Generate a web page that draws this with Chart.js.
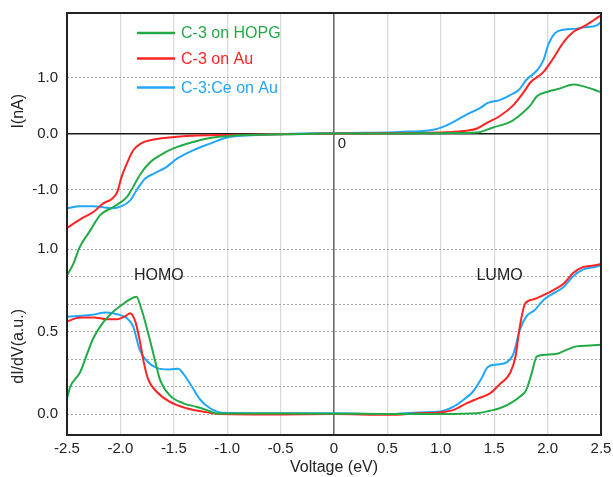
<!DOCTYPE html>
<html><head><meta charset="utf-8">
<script src="https://cdn.jsdelivr.net/npm/chart.js@4"></script>
<style>html,body{margin:0;padding:0;background:#fff}#wrap{width:613px;height:477px;position:relative}</style>
</head><body><div id="wrap"><canvas id="c" width="613" height="477"></canvas></div>
<script>
// ---- series meta ----
const seriesNames = ['C-3 on HOPG', 'C-3 on Au', 'C-3:Ce on Au'];
const seriesColors = ['#22aa46', '#ff2323', '#22a6fa'];

// ---- I(V) curves (nA) ----
const vIGreen = [-2.5,-2.44,-2.38,-2.28,-2.19,-2.07,-1.94,-1.90,-1.81,-1.72,-1.63,-1.51,-1.32,-1.13,-0.94,-0.7,-0.4,0,0.4,0.8,1.1,1.34,1.49,1.65,1.74,1.84,1.90,2.0,2.12,2.24,2.33,2.43,2.5];
const iGreen  = [-2.54,-2.33,-2.03,-1.73,-1.46,-1.32,-1.14,-1.02,-0.72,-0.51,-0.39,-0.27,-0.15,-0.07,-0.036,-0.02,-0.01,0,0,0.005,0.01,0.02,0.11,0.21,0.33,0.51,0.67,0.75,0.81,0.88,0.85,0.79,0.74];

const vIRed = [-2.5,-2.38,-2.25,-2.16,-2.08,-2.03,-1.99,-1.94,-1.88,-1.81,-1.72,-1.54,-1.32,-1.0,-0.5,0,0.5,0.9,1.1,1.24,1.34,1.43,1.55,1.68,1.78,1.84,1.96,2.05,2.15,2.24,2.33,2.43,2.5];
const iRed  = [-1.69,-1.54,-1.40,-1.25,-1.17,-1.05,-0.78,-0.54,-0.30,-0.18,-0.12,-0.07,-0.04,-0.025,-0.01,0,0.005,0.015,0.03,0.05,0.09,0.19,0.31,0.51,0.75,0.92,1.10,1.34,1.64,1.82,1.91,2.03,2.12];

const vIBlue = [-2.5,-2.38,-2.25,-2.16,-2.07,-1.99,-1.91,-1.85,-1.77,-1.69,-1.57,-1.47,-1.32,-1.16,-1.0,-0.82,-0.5,0,0.3,0.62,0.93,1.02,1.12,1.24,1.37,1.44,1.55,1.65,1.73,1.80,1.90,1.96,2.01,2.07,2.15,2.27,2.37,2.46,2.5];
const iBlue  = [-1.34,-1.30,-1.30,-1.32,-1.34,-1.30,-1.20,-1.02,-0.81,-0.72,-0.60,-0.45,-0.30,-0.18,-0.07,-0.036,-0.01,0.01,0.015,0.03,0.07,0.12,0.21,0.34,0.46,0.55,0.60,0.69,0.78,0.96,1.13,1.31,1.61,1.80,1.86,1.88,1.91,1.94,2.0];

// ---- dI/dV curves (a.u.) ----
const vDGreen = [-2.5,-2.47,-2.38,-2.32,-2.26,-2.19,-2.10,-2.0,-1.91,-1.85,-1.81,-1.74,-1.67,-1.63,-1.54,-1.41,-1.29,-1.19,-1.10,-0.5,0,0.5,1.0,1.34,1.46,1.55,1.65,1.74,1.80,1.85,1.90,1.99,2.09,2.18,2.27,2.40,2.5];
const dGreen  = [0.095,0.165,0.25,0.35,0.45,0.53,0.60,0.655,0.695,0.71,0.65,0.49,0.31,0.21,0.115,0.065,0.044,0.024,0.004,0.003,0.002,0.0,0.0,0.005,0.02,0.035,0.065,0.105,0.145,0.245,0.35,0.36,0.365,0.39,0.41,0.415,0.42];

const vDRed = [-2.5,-2.38,-2.25,-2.13,-2.03,-1.95,-1.91,-1.86,-1.82,-1.78,-1.74,-1.66,-1.54,-1.38,-1.22,-1.07,-0.5,0,0.5,0.8,0.99,1.12,1.24,1.35,1.46,1.55,1.65,1.70,1.74,1.79,1.87,1.96,2.05,2.15,2.24,2.33,2.43,2.5];
const dRed  = [0.56,0.585,0.585,0.575,0.575,0.595,0.61,0.56,0.45,0.31,0.21,0.135,0.075,0.035,0.014,0.0,-0.003,0.0,-0.005,0.005,0.01,0.025,0.065,0.095,0.125,0.18,0.25,0.35,0.53,0.67,0.695,0.72,0.75,0.79,0.855,0.89,0.90,0.91];

const vDBlue = [-2.5,-2.28,-2.13,-2.03,-1.94,-1.88,-1.82,-1.75,-1.66,-1.54,-1.46,-1.40,-1.33,-1.25,-1.16,-1.04,-0.5,0,0.5,0.8,0.99,1.12,1.21,1.30,1.38,1.44,1.52,1.62,1.68,1.74,1.80,1.88,1.96,2.05,2.15,2.24,2.33,2.43,2.5];
const dBlue  = [0.59,0.60,0.615,0.605,0.58,0.53,0.39,0.32,0.28,0.27,0.275,0.235,0.165,0.085,0.035,0.008,0.005,0.005,0.0,0.01,0.015,0.045,0.085,0.135,0.215,0.285,0.30,0.315,0.365,0.51,0.59,0.63,0.69,0.73,0.77,0.835,0.875,0.89,0.90];

// ---- ticks ----
const xTicks = [-2.5,-2.0,-1.5,-1.0,-0.5,0,0.5,1.0,1.5,2.0,2.5];
const iTicks = [-1.0, 0.0, 1.0];
const dLabelTicks = [0.0, 0.5, 1.0];
const dGridCount = 6; // dI/dV grid lines every 1/6 between 0 and 1

// axis ranges (both y scales share the full plot height)
const I_MIN = -5.40, I_MAX = 2.16;
const D_MIN = -0.127, D_MAX = 2.43;

const FONT = "'Liberation Sans', Arial, Helvetica, sans-serif";
const TXT = '#222';

function pts(xs, ys) { return xs.map((x, i) => ({x: x, y: ys[i]})); }
function ds(label, xs, ys, color, axis) {
  return {label, data: pts(xs, ys), borderColor: color, backgroundColor: color, yAxisID: axis,
    borderWidth: 2, pointRadius: 0, fill: false, cubicInterpolationMode: 'monotone'};
}
// value on the dI/dV scale -> equivalent value on the I scale (same pixel row)
function dToI(d) { return I_MIN + (d - D_MIN) / (D_MAX - D_MIN) * (I_MAX - I_MIN); }

const decor = {
  id: 'decor',
  afterDraw(chart) {
    const {ctx, chartArea: a, scales} = chart;
    ctx.save();
    ctx.strokeStyle = '#222'; ctx.lineWidth = 2;
    ctx.strokeRect(a.left, a.top, a.right - a.left, a.bottom - a.top);
    ctx.fillStyle = TXT; ctx.textAlign = 'center'; ctx.textBaseline = 'middle';
    ctx.font = '16px ' + FONT;
    [['I(nA)', scales.y.getPixelForValue(0.4)], ['dI/dV(a.u.)', scales.yD.getPixelForValue(0.41)]].forEach(([t, py]) => {
      ctx.save(); ctx.translate(19, py); ctx.rotate(-Math.PI / 2); ctx.fillText(t, 0, 0); ctx.restore();
    });
    ctx.font = '16px ' + FONT;
    ctx.fillText('HOMO', scales.x.getPixelForValue(-1.64), scales.yD.getPixelForValue(0.84));
    ctx.fillText('LUMO', scales.x.getPixelForValue(1.55), scales.yD.getPixelForValue(0.84));
    ctx.font = '15px ' + FONT;
    ctx.fillText('0', scales.x.getPixelForValue(0.075), scales.y.getPixelForValue(-0.19));
    ctx.font = '16px ' + FONT; ctx.textAlign = 'left';
    const rows = [20, 45.5, 74.5];
    seriesNames.forEach((n, i) => {
      const y = a.top + rows[i];
      ctx.strokeStyle = seriesColors[i]; ctx.lineWidth = 2.5;
      ctx.beginPath(); ctx.moveTo(a.left + 70, y); ctx.lineTo(a.left + 108, y); ctx.stroke();
      ctx.fillStyle = seriesColors[i];
      ctx.fillText(n, a.left + 114, y + 1);
    });
    ctx.restore();
  }
};

function isZeroI(c) { return c.tick && c.tick.kind === 'i' && c.tick.value === 0; }

new Chart(document.getElementById('c'), {
  type: 'line',
  data: {
    datasets: [
      ds(seriesNames[0], vIGreen, iGreen, seriesColors[0], 'y'),
      ds(seriesNames[1], vIRed, iRed, seriesColors[1], 'y'),
      ds(seriesNames[2], vIBlue, iBlue, seriesColors[2], 'y'),
      ds(seriesNames[0], vDGreen, dGreen, seriesColors[0], 'yD'),
      ds(seriesNames[1], vDRed, dRed, seriesColors[1], 'yD'),
      ds(seriesNames[2], vDBlue, dBlue, seriesColors[2], 'yD')
    ]
  },
  options: {
    responsive: false, animation: false, devicePixelRatio: 1,
    layout: {padding: {left: 0, top: 13, right: 12, bottom: 0}},
    plugins: {legend: {display: false}, tooltip: {enabled: false}},
    scales: {
      x: {
        type: 'linear', min: -2.5, max: 2.5,
        afterBuildTicks: s => { s.ticks = xTicks.map(v => ({value: v})); },
        afterFit: s => { s.height = 42; s.paddingLeft = 0; s.paddingRight = 0; },
        ticks: {autoSkip: false, maxRotation: 0, padding: 5, color: TXT, font: {family: FONT, size: 15},
          callback: v => (v === 0 ? '0' : v.toFixed(1))},
        grid: {drawTicks: false,
          color: c => (c.tick && c.tick.value === 0 ? '#6b6b6b' : '#d8d8d8'),
          lineWidth: c => (c.tick && c.tick.value === 0 ? 1.6 : 1.2)},
        border: {display: false},
        title: {display: true, text: 'Voltage (eV)', color: TXT, font: {family: FONT, size: 16}, padding: {top: 0, bottom: 0}}
      },
      y: {
        // I(nA) axis; also carries the dI/dV tick rows (converted to the same pixel rows)
        type: 'linear', position: 'left', min: I_MIN, max: I_MAX,
        afterBuildTicks: s => {
          const t = iTicks.map(v => ({value: v, kind: 'i', label0: v.toFixed(1)}));
          for (let k = 0; k <= dGridCount; k++) {
            const d = k / dGridCount;
            const lab = dLabelTicks.some(x => Math.abs(x - d) < 1e-6) ? d.toFixed(1) : '';
            t.push({value: dToI(d), kind: 'd', label0: lab});
          }
          t.sort((p, q) => p.value - q.value);
          s.ticks = t;
        },
        afterFit: s => { s.width = 67; s.paddingTop = 0; s.paddingBottom = 0; },
        ticks: {autoSkip: false, padding: 9, color: TXT, font: {family: FONT, size: 15},
          callback: (v, i, ticks) => ticks[i].label0},
        grid: {drawTicks: false,
          color: c => (isZeroI(c) ? '#1a1a1a' : '#a5a5a5'),
          lineWidth: c => (isZeroI(c) ? 1.5 : 1)},
        border: {display: false, dash: c => (isZeroI(c) ? [] : [2, 2])}
      },
      yD: {
        type: 'linear', display: false, min: D_MIN, max: D_MAX
      }
    }
  },
  plugins: [decor]
});
</script>
</body></html>
